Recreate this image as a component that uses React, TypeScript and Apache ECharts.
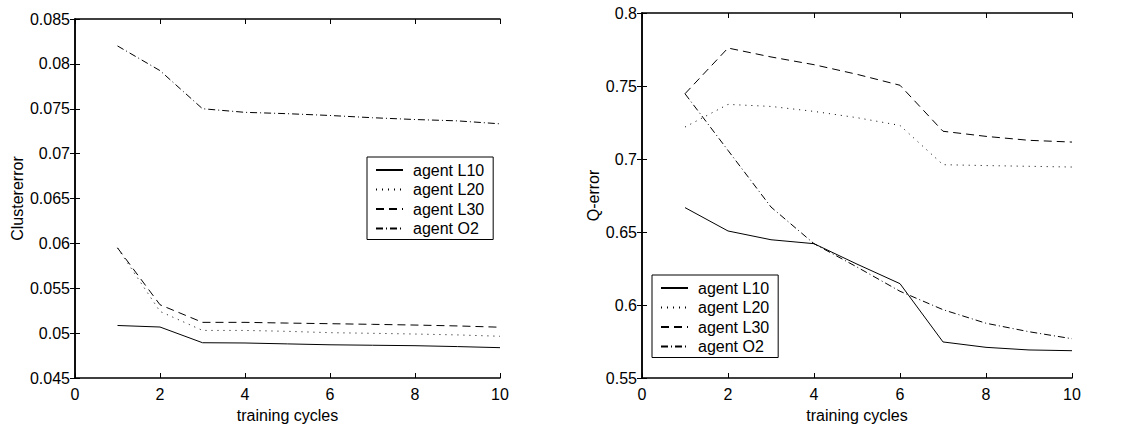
import React, { useEffect, useRef } from "react";
import * as echarts from "echarts";

const cycles = [1, 2, 3, 4, 5, 6, 7, 8, 9, 10];
const seriesNames = ["agent L10", "agent L20", "agent L30", "agent O2"];
const xTicks = { min: 0, max: 10, interval: 2 };

const clusterL10 = [0.05085, 0.05068, 0.04893, 0.0489, 0.0488, 0.0487, 0.04865, 0.0486, 0.0485, 0.04838];
const clusterL20 = [0.0595, 0.05242, 0.0503, 0.0503, 0.0502, 0.05005, 0.04998, 0.0499, 0.0498, 0.04965];
const clusterL30 = [0.0595, 0.05316, 0.0512, 0.0512, 0.05112, 0.05105, 0.05098, 0.0509, 0.0508, 0.05066];
const clusterO2 = [0.082, 0.07925, 0.075, 0.0746, 0.07445, 0.07425, 0.074, 0.0738, 0.07365, 0.07332];

const qL10 = [0.6667, 0.6507, 0.6447, 0.642, 0.628, 0.6146, 0.5747, 0.571, 0.5692, 0.5687];
const qL20 = [0.7219, 0.7374, 0.736, 0.7326, 0.7283, 0.723, 0.6961, 0.6955, 0.695, 0.6945];
const qL30 = [0.7447, 0.776, 0.7699, 0.7646, 0.758, 0.7505, 0.719, 0.7155, 0.7128, 0.7116];
const qO2 = [0.7447, 0.7059, 0.6671, 0.642, 0.626, 0.6094, 0.5968, 0.5875, 0.5817, 0.5769];

const FONT = "'Liberation Sans', Arial, Helvetica, sans-serif";
const dashTypes: any[] = ["solid", [1, 5], [8, 5], [7, 3, 1, 3]];

const fmt = (v: number) => String(parseFloat(v.toFixed(4)));

function buildSeries(values: number[][], axisIndex: number) {
  return values.map((vals, i) => ({
    name: seriesNames[i],
    type: "line",
    xAxisIndex: axisIndex * 2,
    yAxisIndex: axisIndex * 2,
    symbol: "none",
    showSymbol: false,
    data: cycles.map((c, k) => [c, vals[k]]),
    lineStyle: { color: "#000", width: 1, type: dashTypes[i] },
    itemStyle: { color: "#000" },
    z: 3,
  }));
}

function axesFor(grid: number, yMin: number, yMax: number, yInt: number, yName: string, yGap: number) {
  const tick = { show: true, inside: true, length: 5, lineStyle: { color: "#000", width: 1 } };
  const line = { show: true, lineStyle: { color: "#000", width: 1.5 } };
  const label = { color: "#000", fontSize: 16, fontFamily: FONT };
  const xAxes = [
    {
      type: "value", gridIndex: grid, ...xTicks, position: "bottom",
      axisLine: line, axisTick: tick, splitLine: { show: false },
      axisLabel: { ...label, margin: 8 },
      name: "training cycles", nameLocation: "middle", nameGap: 29,
      nameTextStyle: { color: "#000", fontSize: 16, fontFamily: FONT },
    },
    {
      type: "value", gridIndex: grid, ...xTicks, position: "top",
      axisLine: line, axisTick: tick, splitLine: { show: false },
      axisLabel: { show: false },
    },
  ];
  const yAxes = [
    {
      type: "value", gridIndex: grid, min: yMin, max: yMax, interval: yInt, position: "left",
      axisLine: line, axisTick: tick, splitLine: { show: false },
      axisLabel: { ...label, margin: 5, formatter: fmt },
      name: yName, nameLocation: "middle", nameGap: yGap,
      nameTextStyle: { color: "#000", fontSize: 16, fontFamily: FONT },
    },
    {
      type: "value", gridIndex: grid, min: yMin, max: yMax, interval: yInt, position: "right",
      axisLine: line, axisTick: tick, splitLine: { show: false },
      axisLabel: { show: false },
    },
  ];
  return { xAxes, yAxes };
}

function legendAt(left: number, top: number) {
  return {
    data: seriesNames,
    orient: "vertical",
    left, top,
    backgroundColor: "#fff",
    borderColor: "#000",
    borderWidth: 1,
    borderRadius: 0,
    padding: [5, 9, 3, 8],
    itemWidth: 27,
    itemHeight: 14,
    itemGap: 3.5,
    selectedMode: false,
    itemStyle: { opacity: 0, borderWidth: 0 },
    textStyle: { color: "#000", fontSize: 16, fontFamily: FONT, lineHeight: 16, padding: [0, 0, 0, 5] },
  };
}

export default function App() {
  const ref = useRef<HTMLDivElement>(null);
  useEffect(() => {
    if (!ref.current) return;
    const chart = echarts.init(ref.current, undefined, { renderer: "svg" });
    const a = axesFor(0, 0.045, 0.085, 0.005, "Clustererror", 50);
    const b = axesFor(1, 0.55, 0.8, 0.05, "Q-error", 41);
    chart.setOption({
      animation: false,
      backgroundColor: "#fff",
      textStyle: { fontFamily: FONT },
      grid: [
        { left: 75, top: 19, width: 425, height: 359, outerBoundsMode: "none", containLabel: false },
        { left: 642, top: 13, width: 430, height: 365, outerBoundsMode: "none", containLabel: false },
      ],
      xAxis: [...a.xAxes, ...b.xAxes],
      yAxis: [...a.yAxes, ...b.yAxes],
      legend: [legendAt(367, 157), legendAt(652, 275)],
      series: [
        ...buildSeries([clusterL10, clusterL20, clusterL30, clusterO2], 0),
        ...buildSeries([qL10, qL20, qL30, qO2], 1),
      ],
    });
    return () => chart.dispose();
  }, []);
  return (
    <div
      ref={ref}
      style={{ position: "absolute", left: 0, top: 0, width: 1122, height: 425, background: "#fff" }}
    />
  );
}
